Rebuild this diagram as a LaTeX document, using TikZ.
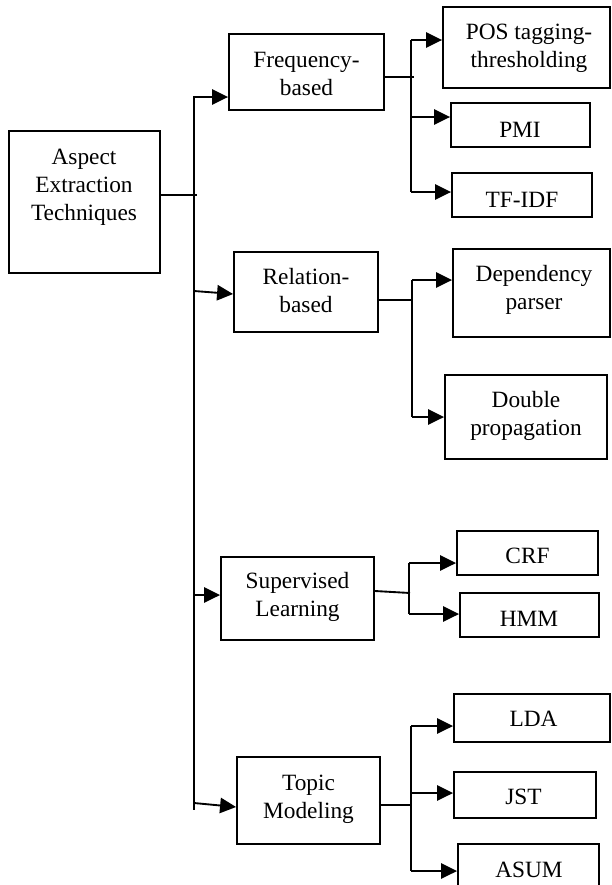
\documentclass[tikz,border=0pt]{standalone}
\usepackage{fontspec}
\setmainfont{Liberation Serif}
\usetikzlibrary{arrows.meta}
\tikzset{
  bx/.style n args={4}{draw, line width=1.4pt, inner sep=0pt,
    minimum width={(#3-#1)*0.75pt}, minimum height={(#4-#2)*0.75pt}},
  tx/.style={inner sep=0pt, align=center, font=\fontsize{17.5}{21}\selectfont},
  ln/.style={line width=1.4pt},
  arr/.style={line width=1.4pt, -{Triangle[length=12pt,width=11.5pt]}},
}
\newcommand\mybox[5]{\node[bx={#2}{#3}{#4}{#5}] (#1) at ({(#2+#4)/2},{(#3+#5)/2}) {};}
\begin{document}
\begin{tikzpicture}[x=0.75pt,y=-0.75pt]
\useasboundingbox (0,0) rectangle (611,885);
% boxes
\mybox{root}{9}{131}{160}{273}
\mybox{freq}{229}{34}{384}{110}
\mybox{rel}{234}{252}{378}{332}
\mybox{sup}{221}{557}{374}{640}
\mybox{topic}{237}{757}{380}{844}
\mybox{pos}{443}{7}{610}{88}
\mybox{pmi}{451}{103}{590}{147}
\mybox{tfidf}{452}{173}{592}{217}
\mybox{dep}{453}{249}{610}{337}
\mybox{dbl}{445}{375}{607}{459}
\mybox{crf}{457}{531}{598}{575}
\mybox{hmm}{460}{593}{599}{637}
\mybox{lda}{454}{694}{610}{742}
\mybox{jst}{454}{772}{596}{818}
\mybox{asum}{458}{844}{599}{900}
% texts
\node[tx] (rootT) at (84,187) {\strut Aspect\\Extraction\\Techniques\strut};
\node[tx] (freqT) at (306.5,75.4) {\strut Frequency-\\based\strut};
\node[tx] (relT) at (306,293) {\strut Relation-\\based\strut};
\node[tx] (supT) at (297.5,597) {\strut Supervised\\Learning\strut};
\node[tx] (topicT) at (308.5,798.4) {\strut Topic\\Modeling\strut};
\node[tx] (posT) at (529,48) {\strut POS tagging-\\thresholding\strut};
\node[tx,anchor=base] (pmiT) at (520,137) {PMI};
\node[tx,anchor=base] (tfidfT) at (522,207) {TF-IDF};
\node[tx] (depT) at (534,290) {\strut Dependency\\parser\strut};
\node[tx] (dblT) at (526,415.4) {\strut Double\\propagation\strut};
\node[tx,anchor=base] (crfT) at (527.5,563) {CRF};
\node[tx,anchor=base] (hmmT) at (529,626) {HMM};
\node[tx,anchor=base] (ldaT) at (533.5,726) {LDA};
\node[tx,anchor=base] (jstT) at (523.5,804) {JST};
\node[tx,anchor=base] (asumT) at (529,877) {ASUM};
% trunk
\coordinate (ttop) at (194,96);
\coordinate (tbot) at (194,810);
\coordinate (tmid) at (197,195);
\draw[ln] (ttop) -- (tbot);
\draw[ln] (root.east |- tmid) -- (tmid);
\coordinate (t1) at (194,97);
\coordinate (t2) at (194,291);
\coordinate (t3) at (194,595);
\coordinate (t4) at (194,803);
\draw[arr] (t1) -- (t1 -| freq.west);
\draw[arr] (t2) -- (rel.west |- 0,294);
\draw[arr] (t3) -- (t3 -| sup.west);
\draw[arr] (t4) -- (topic.west |- 0,807);
% frequency group
\coordinate (fa) at (414,77);
\coordinate (f1) at (411,40);
\coordinate (f2) at (411,117);
\coordinate (f3) at (411,192);
\draw[ln] (freq.east |- fa) -- (fa);
\draw[ln] (f1) -- (f3);
\draw[arr] (f1) -- (f1 -| pos.west);
\draw[arr] (f2) -- (f2 -| pmi.west);
\draw[arr] (f3) -- (f3 -| tfidf.west);
% relation group
\coordinate (ra) at (413,300);
\coordinate (r1) at (412,280);
\coordinate (r2) at (412,417);
\draw[ln] (rel.east |- ra) -- (ra);
\draw[ln] (r1) -- (r2);
\draw[arr] (r1) -- (r1 -| dep.west);
\draw[arr] (r2) -- (r2 -| dbl.west);
% supervised group
\coordinate (sa) at (410,593);
\coordinate (s1) at (409,563);
\coordinate (s2) at (409,614);
\draw[ln] (sup.east |- 0,591) -- (sa);
\draw[ln] (s1) -- (s2);
\draw[arr] (s1) -- (s1 -| crf.west);
\draw[arr] (s2) -- (s2 -| hmm.west);
% topic group
\coordinate (pa) at (411,805);
\coordinate (p1) at (411,726);
\coordinate (p2) at (411,793);
\coordinate (p3) at (411,871);
\draw[ln] (topic.east |- pa) -- (pa);
\draw[ln] (p1) -- (p3);
\draw[arr] (p1) -- (p1 -| lda.west);
\draw[arr] (p2) -- (p2 -| jst.west);
\draw[arr] (p3) -- (p3 -| asum.west);
\end{tikzpicture}
\end{document}
